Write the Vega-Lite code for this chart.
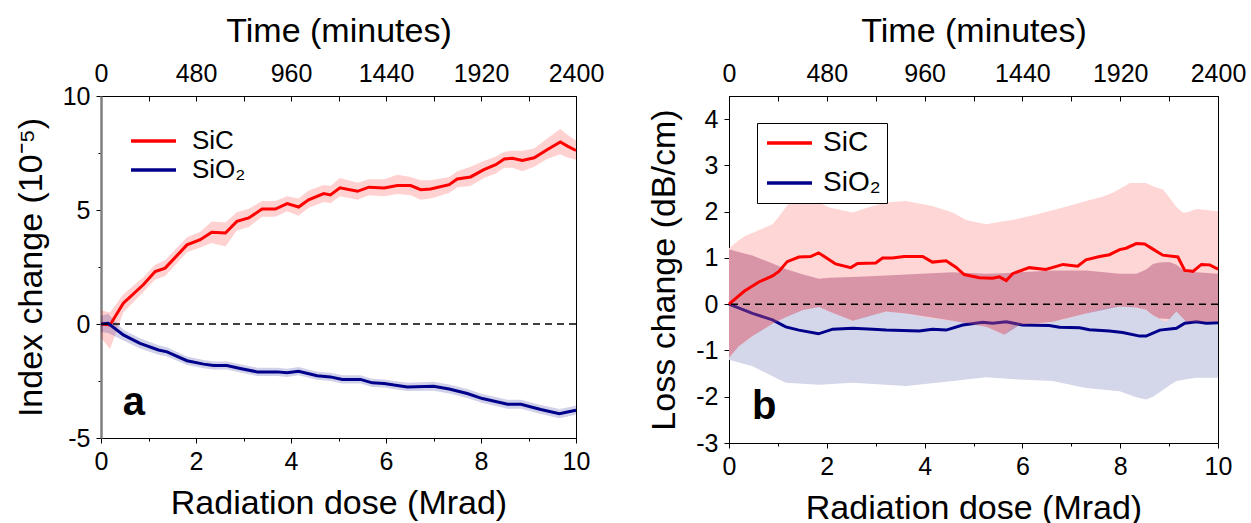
{
  "$schema": "https://vega.github.io/schema/vega-lite/v6.json",
  "padding": {"left": 13, "top": 13, "right": 5, "bottom": 5},
  "background": "white",
  "config": {
    "font": "Liberation Sans",
    "view": {"stroke": "black", "strokeWidth": 1},
    "axis": {
      "labelFont": "Liberation Sans", "titleFont": "Liberation Sans",
      "labelFontSize": 25, "titleFontSize": 34, "titleFontWeight": "normal",
      "labelColor": "black", "titleColor": "black", "tickColor": "black", "domainColor": "black",
      "grid": false, "labelFlush": false, "labelOverlap": false, "tickWidth": 1, "domainWidth": 1
    },
    "legend": {"labelFont": "Liberation Sans", "labelFontSize": 26, "labelColor": "black"}
  },
  "datasets": {
    "a": [
      {"m": "SiC", "d": 0, "v": 0, "lo": -0.6, "hi": 0.6},
      {"m": "SiC", "d": 0.19, "v": -0.04, "lo": -1.1, "hi": 0.5},
      {"m": "SiC", "d": 0.47, "v": 0.91, "lo": 0.5, "hi": 1.3},
      {"m": "SiC", "d": 0.89, "v": 1.72, "lo": 1.4, "hi": 2.05},
      {"m": "SiC", "d": 1.14, "v": 2.3, "lo": 1.95, "hi": 2.6},
      {"m": "SiC", "d": 1.35, "v": 2.45, "lo": 2.1, "hi": 2.8},
      {"m": "SiC", "d": 1.81, "v": 3.47, "lo": 3.15, "hi": 3.8},
      {"m": "SiC", "d": 2.09, "v": 3.7, "lo": 3.35, "hi": 4.05},
      {"m": "SiC", "d": 2.33, "v": 4.02, "lo": 3.55, "hi": 4.5},
      {"m": "SiC", "d": 2.62, "v": 3.99, "lo": 3.4, "hi": 4.45},
      {"m": "SiC", "d": 2.86, "v": 4.5, "lo": 4.1, "hi": 4.9},
      {"m": "SiC", "d": 3.11, "v": 4.65, "lo": 4.25, "hi": 5.05},
      {"m": "SiC", "d": 3.39, "v": 5.04, "lo": 4.7, "hi": 5.4},
      {"m": "SiC", "d": 3.67, "v": 5.04, "lo": 4.7, "hi": 5.4},
      {"m": "SiC", "d": 3.92, "v": 5.28, "lo": 4.95, "hi": 5.6},
      {"m": "SiC", "d": 4.16, "v": 5.13, "lo": 4.75, "hi": 5.5},
      {"m": "SiC", "d": 4.37, "v": 5.45, "lo": 5.1, "hi": 5.85},
      {"m": "SiC", "d": 4.69, "v": 5.72, "lo": 5.35, "hi": 6.1},
      {"m": "SiC", "d": 4.83, "v": 5.66, "lo": 5.3, "hi": 6.05},
      {"m": "SiC", "d": 5.03, "v": 5.97, "lo": 5.6, "hi": 6.4},
      {"m": "SiC", "d": 5.4, "v": 5.82, "lo": 5.45, "hi": 6.2},
      {"m": "SiC", "d": 5.64, "v": 6.0, "lo": 5.65, "hi": 6.35},
      {"m": "SiC", "d": 5.96, "v": 5.97, "lo": 5.6, "hi": 6.35},
      {"m": "SiC", "d": 6.24, "v": 6.07, "lo": 5.7, "hi": 6.55},
      {"m": "SiC", "d": 6.52, "v": 6.07, "lo": 5.65, "hi": 6.45},
      {"m": "SiC", "d": 6.73, "v": 5.89, "lo": 5.45, "hi": 6.3},
      {"m": "SiC", "d": 6.94, "v": 5.92, "lo": 5.5, "hi": 6.3},
      {"m": "SiC", "d": 7.33, "v": 6.11, "lo": 5.75, "hi": 6.45},
      {"m": "SiC", "d": 7.5, "v": 6.36, "lo": 6.0, "hi": 6.7},
      {"m": "SiC", "d": 7.78, "v": 6.45, "lo": 6.05, "hi": 6.9},
      {"m": "SiC", "d": 8.06, "v": 6.77, "lo": 6.4, "hi": 7.15},
      {"m": "SiC", "d": 8.31, "v": 6.99, "lo": 6.6, "hi": 7.35},
      {"m": "SiC", "d": 8.49, "v": 7.24, "lo": 6.85, "hi": 7.55},
      {"m": "SiC", "d": 8.66, "v": 7.27, "lo": 6.85, "hi": 7.6},
      {"m": "SiC", "d": 8.87, "v": 7.17, "lo": 6.7, "hi": 7.6},
      {"m": "SiC", "d": 9.12, "v": 7.29, "lo": 6.9, "hi": 7.7},
      {"m": "SiC", "d": 9.4, "v": 7.65, "lo": 7.25, "hi": 8.15},
      {"m": "SiC", "d": 9.67, "v": 7.98, "lo": 7.45, "hi": 8.55},
      {"m": "SiC", "d": 9.82, "v": 7.8, "lo": 7.3, "hi": 8.3},
      {"m": "SiC", "d": 10, "v": 7.61, "lo": 7.2, "hi": 8.05},
      {"m": "SiO₂", "d": 0, "v": 0, "lo": -0.35, "hi": 0.35},
      {"m": "SiO₂", "d": 0.15, "v": 0.03, "lo": -0.4, "hi": 0.45},
      {"m": "SiO₂", "d": 0.47, "v": -0.48, "lo": -0.72, "hi": -0.25},
      {"m": "SiO₂", "d": 0.82, "v": -0.85, "lo": -1.07, "hi": -0.62},
      {"m": "SiO₂", "d": 1.21, "v": -1.14, "lo": -1.35, "hi": -0.93},
      {"m": "SiO₂", "d": 1.39, "v": -1.22, "lo": -1.42, "hi": -1.02},
      {"m": "SiO₂", "d": 1.81, "v": -1.61, "lo": -1.8, "hi": -1.42},
      {"m": "SiO₂", "d": 2.16, "v": -1.76, "lo": -1.94, "hi": -1.58},
      {"m": "SiO₂", "d": 2.37, "v": -1.82, "lo": -2.0, "hi": -1.64},
      {"m": "SiO₂", "d": 2.65, "v": -1.82, "lo": -2.0, "hi": -1.64},
      {"m": "SiO₂", "d": 2.93, "v": -1.95, "lo": -2.13, "hi": -1.77},
      {"m": "SiO₂", "d": 3.29, "v": -2.1, "lo": -2.28, "hi": -1.92},
      {"m": "SiO₂", "d": 3.71, "v": -2.1, "lo": -2.28, "hi": -1.92},
      {"m": "SiO₂", "d": 3.92, "v": -2.14, "lo": -2.32, "hi": -1.96},
      {"m": "SiO₂", "d": 4.16, "v": -2.07, "lo": -2.25, "hi": -1.89},
      {"m": "SiO₂", "d": 4.55, "v": -2.27, "lo": -2.45, "hi": -2.09},
      {"m": "SiO₂", "d": 4.83, "v": -2.32, "lo": -2.5, "hi": -2.14},
      {"m": "SiO₂", "d": 5.08, "v": -2.43, "lo": -2.61, "hi": -2.25},
      {"m": "SiO₂", "d": 5.46, "v": -2.43, "lo": -2.61, "hi": -2.25},
      {"m": "SiO₂", "d": 5.71, "v": -2.58, "lo": -2.76, "hi": -2.4},
      {"m": "SiO₂", "d": 5.96, "v": -2.61, "lo": -2.79, "hi": -2.43},
      {"m": "SiO₂", "d": 6.17, "v": -2.68, "lo": -2.86, "hi": -2.5},
      {"m": "SiO₂", "d": 6.45, "v": -2.76, "lo": -2.94, "hi": -2.58},
      {"m": "SiO₂", "d": 7.0, "v": -2.73, "lo": -2.93, "hi": -2.53},
      {"m": "SiO₂", "d": 7.33, "v": -2.85, "lo": -3.05, "hi": -2.65},
      {"m": "SiO₂", "d": 7.71, "v": -3.05, "lo": -3.25, "hi": -2.85},
      {"m": "SiO₂", "d": 8.03, "v": -3.27, "lo": -3.47, "hi": -3.07},
      {"m": "SiO₂", "d": 8.56, "v": -3.52, "lo": -3.72, "hi": -3.32},
      {"m": "SiO₂", "d": 8.84, "v": -3.52, "lo": -3.72, "hi": -3.32},
      {"m": "SiO₂", "d": 9.26, "v": -3.75, "lo": -3.95, "hi": -3.55},
      {"m": "SiO₂", "d": 9.65, "v": -3.93, "lo": -4.13, "hi": -3.73},
      {"m": "SiO₂", "d": 9.82, "v": -3.86, "lo": -4.06, "hi": -3.66},
      {"m": "SiO₂", "d": 10, "v": -3.78, "lo": -3.98, "hi": -3.58}
    ],
    "bl": [
      {"m": "SiC", "d": 0, "v": 0}, {"m": "SiC", "d": 0.31, "v": 0.28}, {"m": "SiC", "d": 0.61, "v": 0.48},
      {"m": "SiC", "d": 0.89, "v": 0.61}, {"m": "SiC", "d": 1.02, "v": 0.71}, {"m": "SiC", "d": 1.19, "v": 0.92},
      {"m": "SiC", "d": 1.43, "v": 1.02}, {"m": "SiC", "d": 1.67, "v": 1.03}, {"m": "SiC", "d": 1.83, "v": 1.11},
      {"m": "SiC", "d": 1.98, "v": 1.01}, {"m": "SiC", "d": 2.18, "v": 0.87}, {"m": "SiC", "d": 2.49, "v": 0.79},
      {"m": "SiC", "d": 2.63, "v": 0.88}, {"m": "SiC", "d": 3.0, "v": 0.89}, {"m": "SiC", "d": 3.14, "v": 1.0},
      {"m": "SiC", "d": 3.34, "v": 1.0}, {"m": "SiC", "d": 3.58, "v": 1.03}, {"m": "SiC", "d": 3.96, "v": 1.03},
      {"m": "SiC", "d": 4.16, "v": 0.91}, {"m": "SiC", "d": 4.44, "v": 0.94}, {"m": "SiC", "d": 4.64, "v": 0.8},
      {"m": "SiC", "d": 4.81, "v": 0.64}, {"m": "SiC", "d": 5.12, "v": 0.57}, {"m": "SiC", "d": 5.39, "v": 0.56},
      {"m": "SiC", "d": 5.53, "v": 0.59}, {"m": "SiC", "d": 5.67, "v": 0.51}, {"m": "SiC", "d": 5.8, "v": 0.66},
      {"m": "SiC", "d": 6.14, "v": 0.79}, {"m": "SiC", "d": 6.48, "v": 0.75}, {"m": "SiC", "d": 6.83, "v": 0.86},
      {"m": "SiC", "d": 7.13, "v": 0.82}, {"m": "SiC", "d": 7.3, "v": 0.96}, {"m": "SiC", "d": 7.58, "v": 1.03},
      {"m": "SiC", "d": 7.78, "v": 1.07}, {"m": "SiC", "d": 7.99, "v": 1.18}, {"m": "SiC", "d": 8.12, "v": 1.21},
      {"m": "SiC", "d": 8.33, "v": 1.31}, {"m": "SiC", "d": 8.5, "v": 1.3}, {"m": "SiC", "d": 8.67, "v": 1.19},
      {"m": "SiC", "d": 8.87, "v": 1.06}, {"m": "SiC", "d": 9.18, "v": 1.02}, {"m": "SiC", "d": 9.32, "v": 0.73},
      {"m": "SiC", "d": 9.49, "v": 0.71}, {"m": "SiC", "d": 9.66, "v": 0.86}, {"m": "SiC", "d": 9.83, "v": 0.85},
      {"m": "SiC", "d": 10, "v": 0.76},
      {"m": "SiO₂", "d": 0, "v": 0}, {"m": "SiO₂", "d": 0.48, "v": -0.2}, {"m": "SiO₂", "d": 0.89, "v": -0.34},
      {"m": "SiO₂", "d": 1.16, "v": -0.49}, {"m": "SiO₂", "d": 1.43, "v": -0.56}, {"m": "SiO₂", "d": 1.83, "v": -0.64},
      {"m": "SiO₂", "d": 2.12, "v": -0.54}, {"m": "SiO₂", "d": 2.53, "v": -0.52}, {"m": "SiO₂", "d": 2.94, "v": -0.54},
      {"m": "SiO₂", "d": 3.21, "v": -0.56}, {"m": "SiO₂", "d": 3.89, "v": -0.58}, {"m": "SiO₂", "d": 4.16, "v": -0.54},
      {"m": "SiO₂", "d": 4.44, "v": -0.56}, {"m": "SiO₂", "d": 4.78, "v": -0.45}, {"m": "SiO₂", "d": 5.19, "v": -0.39},
      {"m": "SiO₂", "d": 5.39, "v": -0.41}, {"m": "SiO₂", "d": 5.67, "v": -0.38}, {"m": "SiO₂", "d": 6.0, "v": -0.45},
      {"m": "SiO₂", "d": 6.55, "v": -0.46}, {"m": "SiO₂", "d": 6.76, "v": -0.5}, {"m": "SiO₂", "d": 7.17, "v": -0.51},
      {"m": "SiO₂", "d": 7.37, "v": -0.55}, {"m": "SiO₂", "d": 7.78, "v": -0.58}, {"m": "SiO₂", "d": 8.05, "v": -0.61},
      {"m": "SiO₂", "d": 8.4, "v": -0.69}, {"m": "SiO₂", "d": 8.53, "v": -0.69}, {"m": "SiO₂", "d": 8.81, "v": -0.56},
      {"m": "SiO₂", "d": 9.15, "v": -0.52}, {"m": "SiO₂", "d": 9.32, "v": -0.41}, {"m": "SiO₂", "d": 9.56, "v": -0.38},
      {"m": "SiO₂", "d": 9.76, "v": -0.41}, {"m": "SiO₂", "d": 10, "v": -0.4}
    ],
    "bb": [
      {"m": "SiC", "d": 0, "lo": -1.16, "hi": 1.21}, {"m": "SiC", "d": 0.2, "lo": -0.91, "hi": 1.38},
      {"m": "SiC", "d": 0.34, "lo": -0.8, "hi": 1.48}, {"m": "SiC", "d": 0.61, "lo": -0.59, "hi": 1.6},
      {"m": "SiC", "d": 0.89, "lo": -0.42, "hi": 1.73}, {"m": "SiC", "d": 0.99, "lo": -0.38, "hi": 1.85},
      {"m": "SiC", "d": 1.26, "lo": -0.22, "hi": 2.23}, {"m": "SiC", "d": 1.5, "lo": -0.13, "hi": 2.34},
      {"m": "SiC", "d": 1.84, "lo": -0.06, "hi": 2.2}, {"m": "SiC", "d": 2.05, "lo": -0.16, "hi": 2.09},
      {"m": "SiC", "d": 2.53, "lo": -0.36, "hi": 1.98}, {"m": "SiC", "d": 2.87, "lo": -0.24, "hi": 2.1},
      {"m": "SiC", "d": 3.07, "lo": -0.2, "hi": 2.16}, {"m": "SiC", "d": 3.21, "lo": -0.16, "hi": 2.2},
      {"m": "SiC", "d": 3.62, "lo": -0.2, "hi": 2.23}, {"m": "SiC", "d": 4.16, "lo": -0.31, "hi": 2.12},
      {"m": "SiC", "d": 4.57, "lo": -0.36, "hi": 1.98}, {"m": "SiC", "d": 4.85, "lo": -0.4, "hi": 1.82},
      {"m": "SiC", "d": 5.26, "lo": -0.49, "hi": 1.73}, {"m": "SiC", "d": 5.63, "lo": -0.66, "hi": 1.8},
      {"m": "SiC", "d": 5.8, "lo": -0.45, "hi": 1.82}, {"m": "SiC", "d": 6.28, "lo": -0.45, "hi": 1.94},
      {"m": "SiC", "d": 6.83, "lo": -0.33, "hi": 2.09}, {"m": "SiC", "d": 7.3, "lo": -0.2, "hi": 2.23},
      {"m": "SiC", "d": 7.65, "lo": -0.09, "hi": 2.33}, {"m": "SiC", "d": 7.85, "lo": -0.05, "hi": 2.41},
      {"m": "SiC", "d": 8.2, "lo": -0.05, "hi": 2.62}, {"m": "SiC", "d": 8.53, "lo": -0.12, "hi": 2.62},
      {"m": "SiC", "d": 8.67, "lo": -0.24, "hi": 2.55}, {"m": "SiC", "d": 8.87, "lo": -0.35, "hi": 2.48},
      {"m": "SiC", "d": 8.94, "lo": -0.38, "hi": 2.4}, {"m": "SiC", "d": 9.15, "lo": -0.16, "hi": 2.1},
      {"m": "SiC", "d": 9.28, "lo": -0.3, "hi": 1.98}, {"m": "SiC", "d": 9.35, "lo": -0.38, "hi": 1.98},
      {"m": "SiC", "d": 9.56, "lo": -0.38, "hi": 2.06}, {"m": "SiC", "d": 10, "lo": -0.38, "hi": 2.01},
      {"m": "SiO₂", "d": 0, "lo": -1.2, "hi": 1.19}, {"m": "SiO₂", "d": 0.48, "lo": -1.34, "hi": 1.05},
      {"m": "SiO₂", "d": 1.16, "lo": -1.7, "hi": 0.76}, {"m": "SiO₂", "d": 1.84, "lo": -1.74, "hi": 0.55},
      {"m": "SiO₂", "d": 2.53, "lo": -1.7, "hi": 0.59}, {"m": "SiO₂", "d": 3.21, "lo": -1.74, "hi": 0.62},
      {"m": "SiO₂", "d": 3.62, "lo": -1.77, "hi": 0.64}, {"m": "SiO₂", "d": 4.57, "lo": -1.66, "hi": 0.69},
      {"m": "SiO₂", "d": 5.26, "lo": -1.58, "hi": 0.66}, {"m": "SiO₂", "d": 5.94, "lo": -1.63, "hi": 0.69},
      {"m": "SiO₂", "d": 6.62, "lo": -1.66, "hi": 0.73}, {"m": "SiO₂", "d": 7.3, "lo": -1.81, "hi": 0.73},
      {"m": "SiO₂", "d": 7.99, "lo": -1.88, "hi": 0.66}, {"m": "SiO₂", "d": 8.33, "lo": -2.01, "hi": 0.66},
      {"m": "SiO₂", "d": 8.53, "lo": -2.06, "hi": 0.75}, {"m": "SiO₂", "d": 8.67, "lo": -2.0, "hi": 0.87},
      {"m": "SiO₂", "d": 8.8, "lo": -1.91, "hi": 0.9}, {"m": "SiO₂", "d": 9.01, "lo": -1.75, "hi": 0.91},
      {"m": "SiO₂", "d": 9.15, "lo": -1.66, "hi": 0.85}, {"m": "SiO₂", "d": 9.35, "lo": -1.62, "hi": 0.69},
      {"m": "SiO₂", "d": 9.56, "lo": -1.59, "hi": 0.69}, {"m": "SiO₂", "d": 10, "lo": -1.59, "hi": 0.66}
    ],
    "bo": [
      {"d": 0, "lo": -1.16, "hi": 1.19}, {"d": 0.2, "lo": -0.91, "hi": 1.13}, {"d": 0.48, "lo": -0.69, "hi": 1.05},
      {"d": 0.89, "lo": -0.42, "hi": 0.88}, {"d": 1.16, "lo": -0.28, "hi": 0.76}, {"d": 1.5, "lo": -0.13, "hi": 0.65},
      {"d": 1.84, "lo": -0.06, "hi": 0.55}, {"d": 2.05, "lo": -0.16, "hi": 0.57}, {"d": 2.53, "lo": -0.36, "hi": 0.59},
      {"d": 3.21, "lo": -0.16, "hi": 0.62}, {"d": 3.62, "lo": -0.2, "hi": 0.64}, {"d": 4.57, "lo": -0.36, "hi": 0.69},
      {"d": 5.26, "lo": -0.49, "hi": 0.66}, {"d": 5.63, "lo": -0.66, "hi": 0.67}, {"d": 5.94, "lo": -0.45, "hi": 0.69},
      {"d": 6.62, "lo": -0.38, "hi": 0.73}, {"d": 7.3, "lo": -0.2, "hi": 0.73}, {"d": 7.99, "lo": -0.05, "hi": 0.66},
      {"d": 8.33, "lo": -0.07, "hi": 0.66}, {"d": 8.53, "lo": -0.12, "hi": 0.75}, {"d": 8.67, "lo": -0.24, "hi": 0.87},
      {"d": 8.8, "lo": -0.31, "hi": 0.9}, {"d": 9.01, "lo": -0.32, "hi": 0.91}, {"d": 9.15, "lo": -0.16, "hi": 0.85},
      {"d": 9.35, "lo": -0.38, "hi": 0.69}, {"d": 9.56, "lo": -0.38, "hi": 0.69}, {"d": 10, "lo": -0.38, "hi": 0.66}
    ],
    "one": [{"k": 1}]
  },
  "resolve": {"scale": {"x": "independent", "y": "independent", "color": "independent"}, "legend": {"color": "independent"}, "axis": {"x": "independent", "y": "independent"}},
  "spacing": 42,
  "hconcat": [
    {
      "width": 475, "height": 342,
      "data": {"name": "a"},
      "layer": [
        {"transform": [{"filter": "datum.m === 'SiC'"}],
         "mark": {"type": "area", "color": "#ff0000", "opacity": 0.18},
         "encoding": {
           "x": {"field": "d", "type": "quantitative", "scale": {"domain": [0, 10], "nice": false, "zero": false},
                 "axis": {"orient": "bottom", "values": [0,1,2,3,4,5,6,7,8,9,10], "labelExpr": "datum.value % 2 === 0 ? datum.label : ''",
                          "tickSize": {"condition": {"test": "datum.value % 2 !== 0", "value": 3}, "value": 5}, "labelPadding": 6,
                          "title": "Radiation dose (Mrad)", "titlePadding": 12}},
           "y": {"field": "lo", "type": "quantitative", "scale": {"domain": [-5, 10], "nice": false, "zero": false},
                 "axis": {"orient": "left", "values": [-5,-2.5,0,2.5,5,7.5,10], "labelExpr": "datum.value % 5 === 0 ? toString(datum.value) : ''",
                          "tickSize": {"condition": {"test": "datum.value % 5 !== 0", "value": 3}, "value": 5}, "labelPadding": 6,
                          "domainColor": "#808080", "domainWidth": 2.5,
                          "title": "Index change (10⁻⁵)", "titlePadding": 14}},
           "y2": {"field": "hi"}
         }},
        {"transform": [{"filter": "datum.m === 'SiO₂'"}],
         "mark": {"type": "area", "color": "#00008b", "opacity": 0.18},
         "encoding": {
           "x": {"field": "d", "type": "quantitative", "scale": {"domain": [0, 10], "nice": false, "zero": false}, "axis": null},
           "y": {"field": "lo", "type": "quantitative", "scale": {"domain": [-5, 10], "nice": false, "zero": false}},
           "y2": {"field": "hi"}
         }},
        {"transform": [{"filter": "datum.m === 'SiC'"}],
         "mark": {"type": "line", "strokeWidth": 3},
         "encoding": {
           "x": {"field": "d", "type": "quantitative", "scale": {"domain": [0, 10], "nice": false, "zero": false},
                 "axis": {"orient": "top", "values": [0,1,2,3,4,5,6,7,8,9,10], "labelExpr": "datum.value % 2 === 0 ? format(datum.value * 240, 'd') : ''",
                          "tickSize": -5, "labelPadding": 15, "title": "Time (minutes)", "titlePadding": 13}},
           "y": {"field": "v", "type": "quantitative", "scale": {"domain": [-5, 10], "nice": false, "zero": false}},
           "color": {"field": "m", "type": "nominal", "scale": {"domain": ["SiC", "SiO₂"], "range": ["#ff0000", "#00008b"]},
                     "legend": {"orient": "none", "legendX": 27, "legendY": 32, "title": null, "symbolType": "M-1,0H3.5", "symbolSize": 400,
                                "symbolStrokeWidth": 3.5, "labelFontSize": 26, "rowPadding": 3, "labelOffset": 38, "padding": 0}}
         }},
        {"transform": [{"filter": "datum.m === 'SiO₂'"}],
         "mark": {"type": "line", "strokeWidth": 3},
         "encoding": {
           "x": {"field": "d", "type": "quantitative", "scale": {"domain": [0, 10], "nice": false, "zero": false}, "axis": null},
           "y": {"field": "v", "type": "quantitative", "scale": {"domain": [-5, 10], "nice": false, "zero": false}},
           "color": {"field": "m", "type": "nominal", "scale": {"domain": ["SiC", "SiO₂"], "range": ["#ff0000", "#00008b"]}}
         }},
        {"data": {"name": "one"},
         "mark": {"type": "rule", "strokeDash": [7, 5], "strokeWidth": 1.5, "color": "black"},
         "encoding": {"y": {"datum": 0, "type": "quantitative", "scale": {"domain": [-5, 10], "nice": false, "zero": false}}}},
        {"data": {"name": "one"},
         "mark": {"type": "text", "text": "a", "fontSize": 40, "fontWeight": "bold", "font": "Liberation Sans", "align": "left", "baseline": "alphabetic", "color": "black"},
         "encoding": {"x": {"datum": 0.46, "type": "quantitative", "scale": {"domain": [0, 10], "nice": false, "zero": false}, "axis": null},
                      "y": {"datum": -4.0, "type": "quantitative", "scale": {"domain": [-5, 10], "nice": false, "zero": false}}}}
      ]
    },
    {
      "width": 489, "height": 347,
      "layer": [
        {"data": {"name": "bb"}, "transform": [{"filter": "datum.m === 'SiO₂'"}],
         "mark": {"type": "area", "color": "#d4d6e9", "opacity": 1},
         "encoding": {
           "x": {"field": "d", "type": "quantitative", "scale": {"domain": [0, 10], "nice": false, "zero": false},
                 "axis": {"orient": "bottom", "values": [0,1,2,3,4,5,6,7,8,9,10], "labelExpr": "datum.value % 2 === 0 ? datum.label : ''",
                          "tickSize": {"condition": {"test": "datum.value % 2 !== 0", "value": 3}, "value": 5}, "labelPadding": 6,
                          "title": "Radiation dose (Mrad)", "titlePadding": 12}},
           "y": {"field": "lo", "type": "quantitative", "scale": {"domain": [-3, 4.5], "nice": false, "zero": false},
                 "axis": {"orient": "left", "values": [-3,-2.5,-2,-1.5,-1,-0.5,0,0.5,1,1.5,2,2.5,3,3.5,4,4.5], "labelExpr": "datum.value % 1 === 0 ? toString(datum.value) : ''",
                          "tickSize": {"condition": {"test": "datum.value % 1 !== 0", "value": 3}, "value": 5}, "labelPadding": 6,
                          "title": "Loss change (dB/cm)", "titlePadding": 14}},
           "y2": {"field": "hi"}
         }},
        {"data": {"name": "bb"}, "transform": [{"filter": "datum.m === 'SiC'"}],
         "mark": {"type": "area", "color": "#ffd6d6", "opacity": 1},
         "encoding": {
           "x": {"field": "d", "type": "quantitative", "scale": {"domain": [0, 10], "nice": false, "zero": false}, "axis": null},
           "y": {"field": "lo", "type": "quantitative", "scale": {"domain": [-3, 4.5], "nice": false, "zero": false}},
           "y2": {"field": "hi"}
         }},
        {"data": {"name": "bl"}, "transform": [{"filter": "datum.m === 'SiO₂'"}],
         "mark": {"type": "line", "strokeWidth": 3},
         "encoding": {
           "x": {"field": "d", "type": "quantitative", "scale": {"domain": [0, 10], "nice": false, "zero": false}, "axis": null},
           "y": {"field": "v", "type": "quantitative", "scale": {"domain": [-3, 4.5], "nice": false, "zero": false}},
           "color": {"field": "m", "type": "nominal", "scale": {"domain": ["SiC", "SiO₂"], "range": ["#ff0000", "#00008b"]},
                     "legend": {"orient": "none", "legendX": 28, "legendY": 27, "title": null, "symbolType": "M-1,0H3.5", "symbolSize": 400,
                                "symbolStrokeWidth": 3.5, "labelFontSize": 28, "rowPadding": 12, "labelOffset": 32,
                                "strokeColor": "black", "fillColor": "white", "padding": 6}}
         }},
        {"data": {"name": "bo"},
         "mark": {"type": "area", "color": "#ab4870", "opacity": 0.45},
         "encoding": {
           "x": {"field": "d", "type": "quantitative", "scale": {"domain": [0, 10], "nice": false, "zero": false}, "axis": null},
           "y": {"field": "lo", "type": "quantitative", "scale": {"domain": [-3, 4.5], "nice": false, "zero": false}},
           "y2": {"field": "hi"}
         }},
        {"data": {"name": "bl"}, "transform": [{"filter": "datum.m === 'SiC'"}],
         "mark": {"type": "line", "strokeWidth": 3},
         "encoding": {
           "x": {"field": "d", "type": "quantitative", "scale": {"domain": [0, 10], "nice": false, "zero": false},
                 "axis": {"orient": "top", "values": [0,1,2,3,4,5,6,7,8,9,10], "labelExpr": "datum.value % 2 === 0 ? format(datum.value * 240, 'd') : ''",
                          "tickSize": -5, "labelPadding": 15, "title": "Time (minutes)", "titlePadding": 13}},
           "y": {"field": "v", "type": "quantitative", "scale": {"domain": [-3, 4.5], "nice": false, "zero": false}},
           "color": {"field": "m", "type": "nominal", "scale": {"domain": ["SiC", "SiO₂"], "range": ["#ff0000", "#00008b"]}}
         }},
        {"data": {"name": "one"},
         "mark": {"type": "rule", "strokeDash": [7, 5], "strokeWidth": 1.5, "color": "black"},
         "encoding": {"y": {"datum": 0, "type": "quantitative", "scale": {"domain": [-3, 4.5], "nice": false, "zero": false}}}},
        {"data": {"name": "one"},
         "mark": {"type": "text", "text": "b", "fontSize": 40, "fontWeight": "bold", "font": "Liberation Sans", "align": "left", "baseline": "alphabetic", "color": "black"},
         "encoding": {"x": {"datum": 0.47, "type": "quantitative", "scale": {"domain": [0, 10], "nice": false, "zero": false}, "axis": null},
                      "y": {"datum": -2.48, "type": "quantitative", "scale": {"domain": [-3, 4.5], "nice": false, "zero": false}}}}
      ]
    }
  ]
}
